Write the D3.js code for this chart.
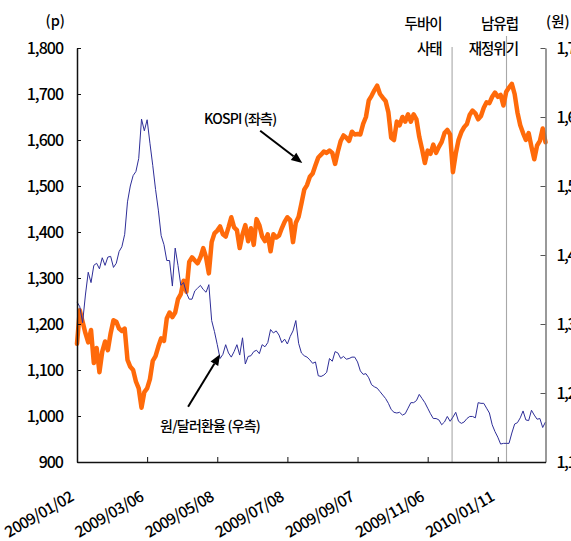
<!DOCTYPE html>
<html>
<head>
<meta charset="utf-8">
<script src="https://cdn.jsdelivr.net/npm/d3@7"></script>
<style>
  body { margin: 0; background: #fff; }
  svg { display: block; }
  text { font-family: "Noto Sans CJK KR", "Noto Sans", sans-serif; fill: #000; font-weight: 500; }
</style>
</head>
<body>
<svg id="chart" width="571" height="541"></svg>
<script>
// KOSPI closing level (points), sampled evenly over trading days from 2009/01/02
const kospi = [
  1157, 1230, 1205, 1180, 1160, 1187, 1115, 1148, 1095, 1140,
  1162, 1143, 1180, 1208, 1205, 1190, 1185, 1190, 1122, 1107,
  1100, 1075, 1060, 1018, 1052, 1060, 1080, 1120, 1130, 1151,
  1169, 1163, 1212, 1225, 1215, 1225, 1254, 1265, 1294, 1270,
  1335, 1345, 1338, 1332, 1345, 1365, 1345, 1310, 1378, 1397,
  1403, 1412, 1395, 1390, 1410, 1432, 1410, 1404, 1365, 1395,
  1415, 1380, 1408, 1372, 1428, 1415, 1390, 1380, 1395, 1358,
  1395, 1388, 1392, 1408, 1422, 1432, 1426, 1378, 1420, 1433,
  1462, 1492, 1502, 1520, 1527, 1545, 1562, 1568, 1575, 1572,
  1577, 1572, 1548, 1575, 1598, 1610, 1605, 1598, 1618, 1612,
  1613, 1612, 1635, 1650, 1686, 1696, 1708, 1718, 1700, 1692,
  1685, 1660, 1605, 1600, 1640, 1632, 1650, 1640, 1656, 1640,
  1656, 1645, 1607, 1580, 1550, 1577, 1570, 1590, 1572, 1585,
  1596, 1615, 1622, 1612, 1530, 1570, 1600, 1617, 1628, 1635,
  1655, 1664, 1658, 1645, 1652, 1670, 1682, 1680, 1694, 1703,
  1694, 1698, 1675, 1705, 1714, 1722, 1700, 1660, 1632, 1615,
  1600, 1615, 1585, 1558, 1588, 1598, 1625, 1595
];

// Won per US dollar, same sampling
const won = [
  1332, 1325, 1302, 1342, 1375, 1360, 1385, 1388, 1380, 1396,
  1385, 1397, 1398, 1382, 1388, 1405, 1412, 1430, 1477, 1500,
  1515, 1521, 1540, 1597, 1580, 1596, 1562, 1530, 1495, 1465,
  1428, 1415, 1392, 1392, 1355, 1410, 1385, 1356, 1360, 1345,
  1336, 1336, 1348, 1352, 1356, 1350, 1346, 1357, 1305, 1289,
  1270, 1250, 1256, 1270, 1258, 1252, 1260, 1270, 1255, 1280,
  1242, 1253, 1254, 1260, 1262, 1257, 1270, 1267, 1273, 1292,
  1287, 1290, 1284, 1273, 1278, 1271, 1282, 1290, 1305, 1272,
  1258, 1254, 1252, 1248, 1243, 1245, 1225, 1224, 1226, 1230,
  1250, 1246, 1260, 1258, 1250, 1253, 1249, 1250, 1252, 1252,
  1245, 1232, 1227, 1228, 1222, 1212, 1209, 1207, 1202, 1197,
  1192, 1185, 1176, 1172, 1171, 1172, 1168, 1170, 1178, 1186,
  1186, 1189, 1198, 1192, 1186, 1178, 1170, 1163, 1163, 1161,
  1154, 1158, 1166, 1159, 1165, 1172, 1159, 1156, 1158, 1163,
  1166, 1166, 1164, 1186, 1185, 1185, 1178, 1171, 1154, 1144,
  1136, 1126, 1127, 1127, 1127, 1142, 1155, 1157, 1164, 1174,
  1161, 1160, 1175, 1168, 1162, 1163, 1150, 1158
];

// Date labels on the time axis and the sample index each one sits at
const dateLabels = ["2009/01/02", "2009/03/06", "2009/05/08", "2009/07/08", "2009/09/07", "2009/11/06", "2010/01/11"];
const dateTickIdx = [0, 25, 50, 75, 100, 125, 150];

const leftTicks = [900, 1000, 1100, 1200, 1300, 1400, 1500, 1600, 1700, 1800];
const rightTicks = [1100, 1200, 1300, 1400, 1500, 1600, 1700];

// Market shocks marked with vertical rules (sample index)
const eventIdx = [133.7, 153.1];
const eventNames = [["두바이", "사태"], ["남유럽", "재정위기"]];

// Series call-outs: arrow tail and head in data units
const kospiArrow = { from: [65.3, 1620], to: [80.3, 1550] };
const wonArrow = { from: [39.6, 1180], to: [51.0, 1256] };

// ---- layout ----
const plot = { l: 77, r: 545.5, t: 48, b: 462 };

const svg = d3.select("#chart");

const x = d3.scaleLinear().domain([0, kospi.length - 1]).range([plot.l, plot.r]);
const yL = d3.scaleLinear().domain([900, 1800]).range([plot.b, plot.t]);
const yR = d3.scaleLinear().domain([1100, 1700]).range([plot.b, plot.t]);

// event rules
const eventLayout = [
  { top: 47, labelDx: -10.5 },
  { top: 36, labelDx: 11.5 }
];
eventIdx.forEach((e, i) => {
  const ex = x(e);
  svg.append("line")
    .attr("x1", ex).attr("x2", ex)
    .attr("y1", eventLayout[i].top).attr("y2", plot.b)
    .attr("stroke", "#a8a8a8").attr("stroke-width", 1.1);
  const t = svg.append("text")
    .attr("text-anchor", "end")
    .attr("font-size", 14.5)
    .attr("letter-spacing", "-1px");
  eventNames[i].forEach((s, j) => {
    t.append("tspan").attr("x", ex + eventLayout[i].labelDx).attr("y", 29 + j * 25).text(s);
  });
});

// KOSPI line (left axis)
svg.append("path")
  .datum(kospi)
  .attr("fill", "none")
  .attr("stroke", "#ff6a0a")
  .attr("stroke-width", 4.5)
  .attr("stroke-linejoin", "round")
  .attr("stroke-linecap", "round")
  .attr("d", d3.line().x((d, i) => x(i)).y(d => yL(d)));

// Won/dollar line (right axis)
svg.append("path")
  .datum(won)
  .attr("fill", "none")
  .attr("stroke", "#2e2e98")
  .attr("stroke-width", 1)
  .attr("stroke-linejoin", "round")
  .attr("d", d3.line().x((d, i) => x(i)).y(d => yR(d)));

// ---- axes ----
const fmt = d3.format(",");

const gL = svg.append("g").attr("transform", `translate(${plot.l},0)`)
  .call(d3.axisLeft(yL).tickValues(leftTicks).tickFormat(fmt).tickSize(-4).tickSizeOuter(0).tickPadding(14));
gL.select(".domain").attr("stroke", "#111").attr("stroke-width", 1.5);
gL.selectAll(".tick line").attr("stroke", "#111");
gL.selectAll("text").attr("font-size", 16).attr("letter-spacing", "-1px")
  .attr("font-family", null).attr("fill", "#000");

const gR = svg.append("g").attr("transform", `translate(${plot.r},0)`)
  .call(d3.axisRight(yR).tickValues(rightTicks).tickFormat(fmt).tickSize(-5).tickSizeOuter(0).tickPadding(11));
gR.select(".domain").attr("stroke", "#777").attr("stroke-width", 1.5);
gR.selectAll(".tick line").attr("stroke", "#555");
gR.selectAll("text").attr("font-size", 16).attr("letter-spacing", "-1.5px")
  .attr("font-family", null).attr("fill", "#000");

const gB = svg.append("g").attr("transform", `translate(0,${plot.b})`)
  .call(d3.axisBottom(x).tickValues(dateTickIdx).tickFormat((d, i) => dateLabels[i]).tickSize(-5).tickSizeOuter(0));
gB.select(".domain").attr("stroke", "#111").attr("stroke-width", 1.5);
gB.selectAll(".tick line").attr("stroke", "#111");
gB.selectAll("text")
  .attr("font-family", null).attr("font-size", 15.5).attr("letter-spacing", "-0.7px").attr("fill", "#000")
  .attr("x", 0).attr("y", 0).attr("dy", 0)
  .attr("text-anchor", "end")
  .attr("transform", "translate(-3,38) rotate(-30)");

// unit captions
svg.append("text").attr("x", 65).attr("y", 26).attr("text-anchor", "end")
  .attr("font-size", 14.5).text("(p)");
svg.append("text").attr("x", 546).attr("y", 27).attr("text-anchor", "start")
  .attr("font-size", 14.5).text("(원)");

// ---- call-out arrows ----
function arrow(a, yScale, label, ldx, ldy) {
  const x1 = x(a.from[0]), y1 = yScale(a.from[1]);
  const x2 = x(a.to[0]), y2 = yScale(a.to[1]);
  const ang = Math.atan2(y2 - y1, x2 - x1);
  const hl = 11, hw = 4.5;
  const bx = x2 - hl * Math.cos(ang), by = y2 - hl * Math.sin(ang);
  svg.append("line")
    .attr("x1", x1).attr("y1", y1).attr("x2", bx).attr("y2", by)
    .attr("stroke", "#000").attr("stroke-width", 2);
  const px = -Math.sin(ang), py = Math.cos(ang);
  svg.append("path")
    .attr("d", `M${x2},${y2}L${bx + px * hw},${by + py * hw}L${bx - px * hw},${by - py * hw}Z`)
    .attr("fill", "#000");
  svg.append("text")
    .attr("x", x1 + ldx).attr("y", y1 + ldy)
    .attr("text-anchor", "middle")
    .attr("font-size", 14).attr("letter-spacing", "-0.8px")
    .text(label);
}
arrow(kospiArrow, yL, "KOSPI (좌측)", -20, -7);
arrow(wonArrow, yR, "원/달러환율 (우측)", 22, 24);
</script>
</body>
</html>
